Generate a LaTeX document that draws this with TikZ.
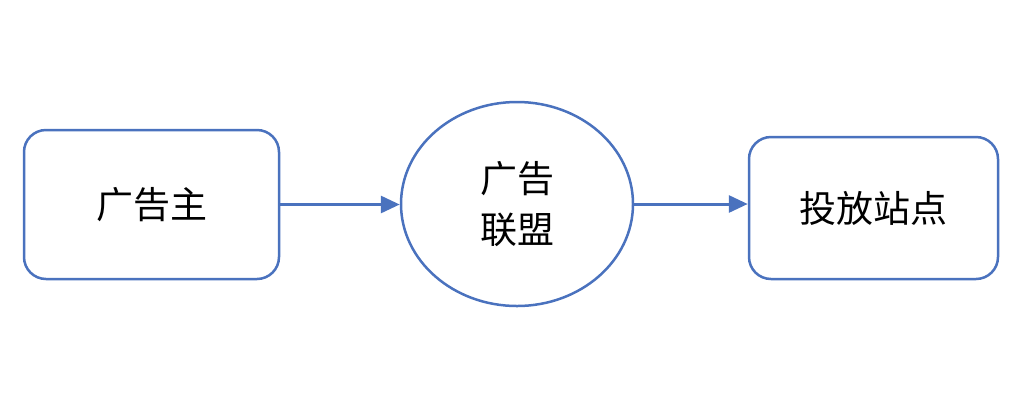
\documentclass[tikz,border=0pt]{standalone}
\usepackage{fontspec}
\setmainfont{Noto Sans CJK SC}
\usepackage{tikz}
\usetikzlibrary{shapes}
\usetikzlibrary{shapes.geometric}
\usetikzlibrary{arrows.meta}
\definecolor{linkblue}{RGB}{74,114,190}

\begin{document}
\begin{tikzpicture}[x=1pt, y=-1pt,
% define styles here
partybox/.style={rectangle, draw=linkblue, line width=2.5pt, fill=white, rounded corners=22pt, font=\fontsize{37}{51}\selectfont},
unionnode/.style={ellipse, draw=linkblue, line width=2.5pt, fill=white, inner sep=0pt, align=center, font=\fontsize{37}{51}\selectfont},
flow/.style={draw=linkblue, line width=3pt, -{Triangle[length=19pt,width=17pt]}}
]
\useasboundingbox (0, 0) rectangle (1022, 400);
\node[partybox, minimum width=255pt, minimum height=149pt] (adv) at (151.5, 204.5) {广告主};
\node[unionnode, minimum width=232pt, minimum height=204pt] (union) at (517, 204) {广告\\联盟};
\node[partybox, minimum width=249pt, minimum height=142pt] (site) at (873.5, 208) {投放站点};

\draw[flow] (adv.east) -- (adv.east -| union.west);
\draw[flow] (union.east) -- (union.east -| site.west);
\end{tikzpicture}
\end{document}
